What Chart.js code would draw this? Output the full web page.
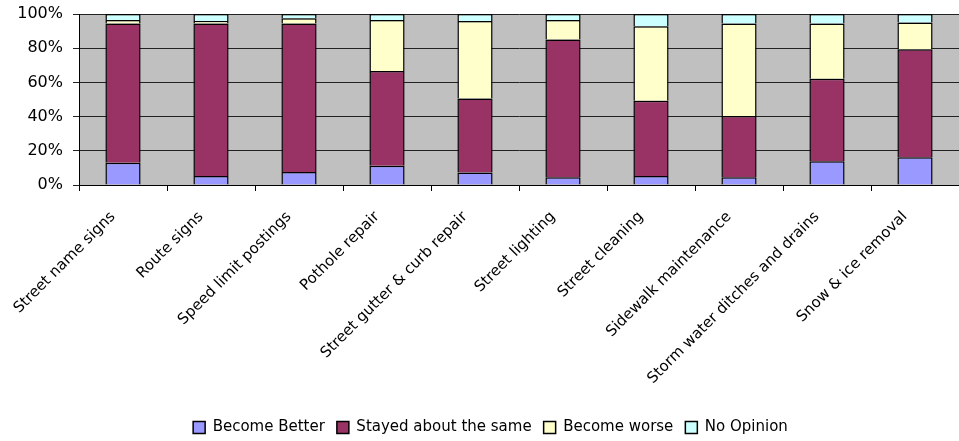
<!DOCTYPE html>
<html lang="en">
<head>
  <meta charset="UTF-8">
  <title>Street services survey</title>
  <script src="https://cdn.jsdelivr.net/npm/chart.js"></script>
  <style>
    html, body {
      margin: 0;
      padding: 0;
      background: #fff;
    }
    .wrap {
      width: 959px;
      height: 441px;
    }
  </style>
</head>
<body>
<div class="wrap">
  <canvas id="chart"></canvas>
</div>

<script>
const categories = [
  "Street name signs", "Route signs", "Speed limit postings", "Pothole repair",
  "Street gutter & curb repair", "Street lighting", "Street cleaning",
  "Sidewalk maintenance", "Storm water ditches and drains", "Snow & ice removal"
];
const becomeBetter = [13.0, 5.3, 7.6, 11.2, 7.3, 4.5, 5.3, 4.5, 13.9, 16.3];
const stayedSame   = [81.5, 89.2, 86.9, 55.5, 43.3, 80.6, 43.9, 35.9, 48.3, 63.1];
const becomeWorse  = [2.0, 1.4, 3.0, 29.8, 45.3, 11.4, 43.7, 54.1, 32.3, 15.7];
const noOpinion    = [3.5, 4.1, 2.5, 3.5, 4.1, 3.5, 7.1, 5.5, 5.5, 4.9];
const yTicks = [0, 20, 40, 60, 80, 100];

const FONT = "'DejaVu Sans', sans-serif";

// gray plot background like the old spreadsheet charts
const plotBg = {
  id: "plotBg",
  beforeDraw(chart) {
    const { ctx, chartArea: a } = chart;
    ctx.save();
    ctx.fillStyle = "#C0C0C0";
    ctx.fillRect(a.left, a.top, a.right - a.left, a.bottom - a.top);
    ctx.restore();
  }
};

// nudge the legend a bit right, as in the original
const legendShift = {
  id: "legendShift",
  afterLayout(chart) {
    chart.legend.left += 11;
    chart.legend.right += 11;
  }
};

function makeSet(label, data, color) {
  return {
    label: label,
    data: data,
    backgroundColor: color,
    borderColor: "#000",
    borderWidth: 1.5,
    barPercentage: 0.4,
    categoryPercentage: 1.0
  };
}

new Chart(document.getElementById("chart"), {
  type: "bar",
  data: {
    labels: categories,
    datasets: [
      makeSet("Become Better", becomeBetter, "#9999FF"),
      makeSet("Stayed about the same", stayedSame, "#993366"),
      makeSet("Become worse", becomeWorse, "#FFFFCC"),
      makeSet("No Opinion", noOpinion, "#CCFFFF")
    ]
  },
  options: {
    responsive: true,
    maintainAspectRatio: false,
    animation: false,
    layout: { padding: { top: 0, right: 0, left: 0, bottom: -4 } },
    plugins: {
      tooltip: { enabled: false },
      legend: {
        position: "bottom",
        labels: {
          font: { family: FONT, size: 15 },
          color: "#000",
          boxWidth: 12,
          boxHeight: 12,
          padding: 12,
          useBorderRadius: false
        }
      }
    },
    scales: {
      x: {
        stacked: true,
        border: { color: "#000", width: 1 },
        grid: {
          offset: true,
          drawOnChartArea: false,
          drawTicks: true,
          tickLength: 6,
          color: "#000"
        },
        ticks: {
          font: { family: FONT, size: 15 },
          color: "#000",
          maxRotation: 45,
          minRotation: 45,
          padding: 17,
          labelOffset: -10,
          autoSkip: false
        },
        afterFit(scale) { scale.height = 223; }
      },
      y: {
        stacked: true,
        min: 0,
        max: 100,
        border: { color: "#000", width: 1 },
        grid: {
          color: "#222",
          lineWidth: 1,
          drawTicks: true,
          tickLength: 6
        },
        ticks: {
          font: { family: FONT, size: 16 },
          color: "#000",
          padding: 10,
          stepSize: 20,
          callback: v => yTicks.includes(v) ? v + "%" : ""
        },
        afterFit(scale) {
          scale.width = 79;
          scale.paddingTop = 14;
          scale.paddingBottom = 0;
        }
      }
    }
  },
  plugins: [plotBg, legendShift]
});
</script>
</body>
</html>
